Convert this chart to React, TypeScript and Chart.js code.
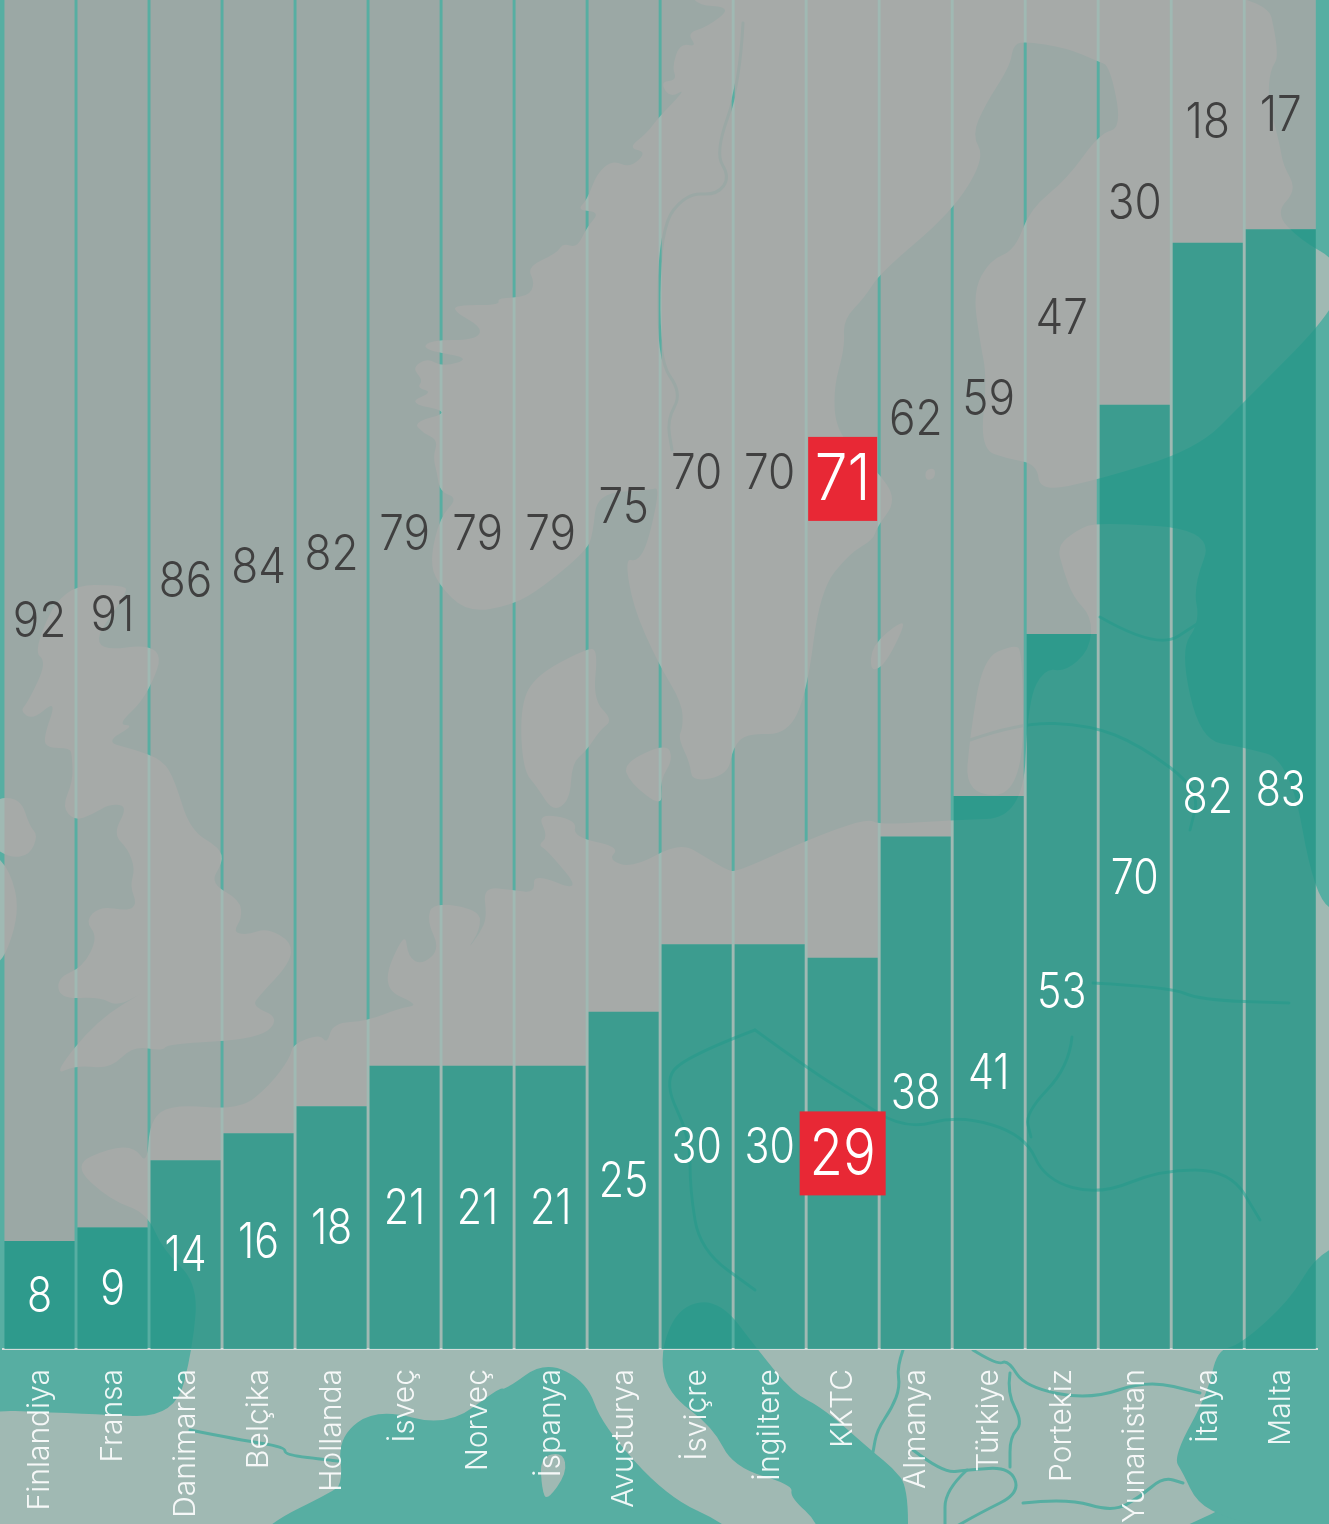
import React, { useEffect, useRef } from "react";
import { Chart, registerables } from "chart.js";

Chart.register(...registerables);

const categories = ["Finlandiya","Fransa","Danimarka","Belçika","Hollanda","İsveç","Norveç","İspanya","Avusturya","İsviçre","İngiltere","KKTC","Almanya","Türkiye","Portekiz","Yunanistan","İtalya","Malta"];
const lowerValues = [8,9,14,16,18,21,21,21,25,30,30,29,38,41,53,70,82,83];
const upperValues = [92,91,86,84,82,79,79,79,75,70,70,71,62,59,47,30,18,17];
const highlighted = "KKTC";

const SEA = "#57aea2";
const LAND = "#a0b9b3";

type Pt = number[];
const britain: Pt[] = [[63,585],[125,585],[127,593],[85,653],[167,642],[147,697],[117,725],[135,725],[105,742],[133,749],[163,760],[175,781],[190,830],[220,848],[223,862],[210,883],[240,900],[242,918],[233,932],[247,935],[267,928],[292,942],[290,963],[260,995],[252,1006],[280,1018],[260,1039],[167,1044],[163,1051],[133,1046],[110,1069],[77,1065],[52,1076],[97,1020],[150,988],[118,1007],[100,997],[60,999],[57,978],[83,967],[98,937],[85,921],[100,906],[128,911],[137,904],[130,886],[135,869],[128,849],[113,834],[128,806],[110,804],[93,814],[75,821],[62,807],[73,781],[72,756],[70,748],[48,748],[43,739],[57,699],[33,720],[20,711],[28,702],[47,662],[33,651]];
const irelandN: Pt[] = [[-10,799],[20,797],[30,827],[38,835],[30,855],[10,858],[-10,845]];
const irelandS: Pt[] = [[-10,850],[10,870],[20,911],[3,963],[-10,960]];
const scandinavia: Pt[] = [[692,-20],[692,5],[733,7],[707,27],[687,33],[697,47],[680,43],[672,67],[677,80],[660,82],[670,98],[687,88],[658,118],[647,133],[628,148],[647,152],[630,168],[613,160],[597,173],[587,200],[577,210],[600,212],[587,227],[577,248],[563,243],[557,253],[527,267],[535,283],[528,297],[497,298],[500,305],[455,305],[455,312],[483,328],[475,340],[430,340],[422,350],[472,358],[443,367],[427,358],[412,368],[423,380],[417,388],[433,392],[407,403],[452,412],[413,422],[423,433],[438,440],[433,457],[437,473],[440,492],[458,498],[440,517],[430,560],[437,583],[467,613],[513,605],[543,587],[587,550],[593,533],[597,493],[650,490],[660,487],[648,543],[637,562],[625,558],[633,607],[658,663],[682,703],[683,727],[678,738],[690,763],[692,782],[728,775],[733,747],[747,733],[787,735],[807,693],[820,590],[850,553],[873,540],[877,527],[897,500],[877,470],[837,435],[833,390],[845,347],[843,320],[865,297],[880,273],[952,212],[985,158],[972,135],[985,105],[1010,66],[1013,46],[1023,41],[1067,48],[1097,61],[1110,66],[1122,128],[1100,133],[1067,179],[1030,209],[1015,250],[990,260],[973,291],[980,342],[987,378],[980,449],[1008,459],[1037,464],[1040,492],[1097,480],[1197,449],[1243,403],[1340,305],[1340,262],[1300,240],[1275,213],[1297,190],[1283,165],[1280,145],[1268,100],[1270,70],[1280,55],[1263,-20]];
const jutland: Pt[] = [[520,710],[533,677],[587,648],[598,650],[593,700],[613,720],[600,730],[587,750],[572,763],[570,800],[553,812],[537,787],[523,770]];
const zealand: Pt[] = [[623,763],[667,743],[673,760],[660,780],[663,808],[630,783]];
const gotland: Pt[] = [[870,672],[872,645],[900,622],[905,625],[885,665]];
const oland: Pt[] = [[925,470],[935,468],[935,478],[926,481]];
const baltLobe: Pt[] = [[965,795],[970,735],[983,658],[1013,645],[1023,650],[1023,795]];
const continent: Pt[] = [[-60,1408],[90,1414],[175,1418],[193,1347],[198,1283],[163,1250],[147,1213],[110,1200],[72,1165],[110,1148],[135,1147],[147,1165],[150,1120],[172,1104],[240,1110],[270,1085],[290,1058],[293,1044],[320,1034],[327,1044],[333,1023],[367,1021],[400,1008],[420,1005],[380,988],[405,930],[408,957],[422,965],[440,949],[427,921],[433,902],[480,910],[480,930],[467,950],[480,933],[487,917],[483,887],[513,890],[535,893],[533,873],[583,893],[547,850],[538,845],[548,837],[537,813],[577,820],[573,837],[620,847],[608,860],[633,868],[680,842],[707,858],[727,870],[737,872],[807,840],[867,818],[880,825],[950,820],[1023,818],[1028,700],[1045,668],[1065,672],[1090,650],[1092,617],[1073,597],[1063,569],[1057,546],[1077,530],[1097,522],[1215,530],[1193,587],[1200,622],[1180,650],[1200,740],[1242,747],[1290,760],[1315,900],[1345,915],[1400,1600],[-60,1600]];
const med: Pt[] = [[240,1560],[267,1524],[330,1493],[343,1483],[338,1437],[377,1408],[447,1427],[500,1387],[505,1390],[545,1361],[587,1382],[602,1425],[667,1497],[727,1524],[760,1560]];
const adriatic: Pt[] = [[660,1350],[680,1305],[720,1300],[758,1350],[793,1393],[823,1408],[873,1452],[893,1468],[908,1487],[908,1560],[820,1560],[820,1524],[790,1497],[793,1485],[733,1467],[713,1427],[667,1393]];
const corsica: Pt[] = [[540,1457],[563,1452],[567,1473],[547,1501],[542,1490]];
const blackSea: Pt[] = [[1315,1257],[1350,1240],[1350,1560],[1260,1525],[1227,1518],[1197,1503],[1183,1473],[1173,1457],[1208,1393],[1217,1350],[1240,1345],[1290,1300]];
const rivers: Pt[][] = [
  [[190,1430],[240,1440],[285,1447],[285,1455],[330,1460],[345,1462]],
  [[973,1350],[997,1365],[1008,1360],[1025,1387],[1090,1400],[1147,1380],[1200,1393]],
  [[1010,1373],[1007,1393],[1023,1423],[1010,1437],[1010,1467]],
  [[913,1450],[943,1473],[967,1470],[1010,1467],[1020,1493],[980,1513],[950,1530]],
  [[967,1470],[945,1490],[945,1524]],
  [[1023,1503],[1067,1498],[1113,1512],[1140,1497],[1163,1477],[1183,1483]],
  [[903,1350],[897,1367],[900,1387],[892,1408],[877,1430],[873,1452]],
  [[743,23],[740,83],[715,153],[730,177],[717,195],[687,193],[660,227],[658,360],[682,393],[667,420],[672,450]],
  [[755,1030],[684,1057],[664,1083],[690,1137],[690,1190],[700,1250],[755,1290]],
  [[755,1030],[810,1070],[850,1095],[905,1130],[960,1115],[1025,1135],[1045,1180],[1100,1195],[1160,1170],[1230,1170],[1260,1220]],
  [[1100,617],[1157,650],[1200,622]],
  [[1093,983],[1170,987],[1200,1000],[1289,1003]],
  [[1072,1037],[1069,1067],[1025,1113],[1031,1137]],
  [[970,740],[1020,722],[1090,725],[1140,745],[1200,790],[1190,830]],
];

function shape(ctx: CanvasRenderingContext2D, pts: Pt[]) {
  ctx.beginPath();
  const n = pts.length;
  const mid = (a: Pt, b: Pt) => [(a[0] + b[0]) / 2, (a[1] + b[1]) / 2];
  const s = mid(pts[n - 1], pts[0]);
  ctx.moveTo(s[0], s[1]);
  for (let i = 0; i < n; i++) {
    const m = mid(pts[i], pts[(i + 1) % n]);
    ctx.quadraticCurveTo(pts[i][0], pts[i][1], m[0], m[1]);
  }
  ctx.closePath();
}

const mapBackground = {
  id: "mapBackground",
  beforeDraw(chart: any) {
    const { ctx, width, height } = chart;
    ctx.save();
    ctx.fillStyle = SEA;
    ctx.fillRect(0, 0, width, height);
    ctx.fillStyle = LAND;
    [britain, irelandN, irelandS, scandinavia, jutland, zealand, gotland, oland, baltLobe, continent].forEach((p) => { shape(ctx, p); ctx.fill(); });
    ctx.fillStyle = SEA;
    [med, adriatic, blackSea].forEach((p) => { shape(ctx, p); ctx.fill(); });
    ctx.fillStyle = LAND;
    shape(ctx, corsica); ctx.fill();
    ctx.strokeStyle = SEA;
    ctx.lineWidth = 3;
    ctx.lineJoin = "round";
    ctx.lineCap = "round";
    rivers.forEach((r) => {
      ctx.beginPath();
      ctx.moveTo(r[0][0], r[0][1]);
      for (let i = 1; i < r.length - 1; i++) {
        ctx.quadraticCurveTo(r[i][0], r[i][1], (r[i][0] + r[i + 1][0]) / 2, (r[i][1] + r[i + 1][1]) / 2);
      }
      ctx.lineTo(r[r.length - 1][0], r[r.length - 1][1]);
      ctx.stroke();
    });
    ctx.restore();
  },
};

const valueLabels = {
  id: "valueLabels",
  afterDatasetsDraw(chart: any) {
    const ctx = chart.ctx;
    ctx.save();
    ctx.textAlign = "center";
    ctx.textBaseline = "middle";
    chart.data.datasets.forEach((ds: any, di: number) => {
      const meta = chart.getDatasetMeta(di);
      meta.data.forEach((bar: any, i: number) => {
        const isHi = categories[i] === highlighted;
        const cx = bar.x;
        const cy = (bar.y + bar.base) / 2;
        if (isHi) {
          const w = di === 0 ? 86 : 69;
          const h = 84;
          ctx.fillStyle = "#e82835";
          ctx.fillRect(cx - w / 2, cy - h / 2, w, h);
        }
        ctx.fillStyle = isHi || di === 0 ? "#ffffff" : "#404040";
        ctx.font = isHi ? '300 65px Inter' : '300 49px Inter';
        ctx.save();
        ctx.translate(cx, cy + 2);
        ctx.scale(di === 0 ? 0.84 : 0.9, 1);
        ctx.fillText(String(ds.data[i]), 0, 0);
        ctx.restore();
      });
    });
    ctx.restore();
  },
};

export default function App() {
  const ref = useRef<HTMLCanvasElement>(null);
  useEffect(() => {
    document.body.style.margin = "0";
    const chart = new Chart(ref.current!, {
      type: "bar",
      data: {
        labels: categories,
        datasets: [
          { label: "lower", data: lowerValues, backgroundColor: "rgba(38,150,135,0.82)", borderWidth: 0 },
          { label: "upper", data: upperValues, backgroundColor: "rgba(167,167,166,0.85)", borderWidth: 0 },
        ],
      },
      options: {
        animation: false,
        responsive: false,
        layout: { padding: { left: 3, right: 9, top: 0, bottom: 0 } },
        datasets: { bar: { barPercentage: 0.96, categoryPercentage: 1 } },
        plugins: { legend: { display: false }, tooltip: { enabled: false } },
        scales: {
          x: {
            stacked: true,
            afterFit: (s: any) => { s.height = 175; },
            grid: { display: false },
            border: { display: true, color: "#d3dcda", width: 2 },
            ticks: { minRotation: 90, maxRotation: 90, autoSkip: false, padding: 12, color: "rgba(255,255,255,0.9)", font: { family: "Inter", size: 30, weight: "300" } },
          },
          y: { stacked: true, display: false, min: 0, max: 100 },
        },
      } as any,
      plugins: [mapBackground, valueLabels],
    });
    return () => chart.destroy();
  }, []);
  return <canvas ref={ref} width={1329} height={1524} style={{ display: "block", width: 1329, height: 1524 }} />;
}
